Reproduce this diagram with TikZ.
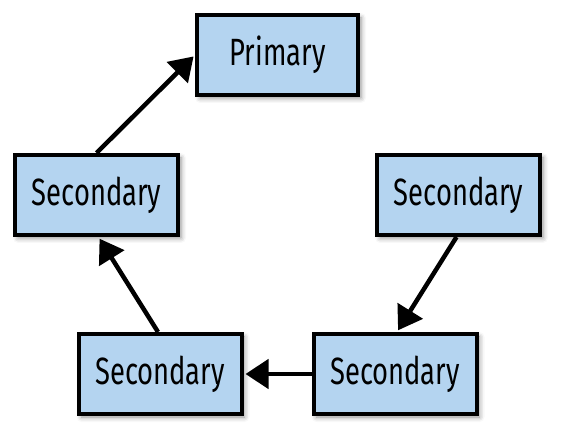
\documentclass[tikz,border=0pt]{standalone}
\usepackage{fontspec}
\setmainfont{Fira Sans}[FakeStretch=0.72]
\usetikzlibrary{arrows.meta,shadows.blur}
\definecolor{boxblue}{RGB}{180,212,240}
\tikzset{
  box/.style={draw=black, line width=4pt, fill=boxblue, minimum width=163pt, minimum height=80pt,
    inner sep=0pt, font=\fontsize{38}{44}\selectfont,
    blur shadow={shadow xshift=3pt, shadow yshift=-3pt, shadow blur radius=5pt, shadow opacity=45}},
  conn/.style={line width=4.5pt, -{Triangle[length=23pt,width=29pt]}, shorten >=2pt}
}
\begin{document}
\begin{tikzpicture}[x=1pt,y=1pt]
\useasboundingbox (0,0) rectangle (569,444);
\node[box, minimum width=161pt] (p) at (277.5,389) {Primary};
\node[box] (s1) at (96.5,249) {Secondary};
\node[box] (s2) at (458.5,249) {Secondary};
\node[box] (s3) at (160,70) {Secondary};
\node[box] (s4) at (395,70) {Secondary};
\draw[conn] (s1.north) -- (p.west);
\draw[conn] ([xshift=-2pt]s3.north) -- ([xshift=2pt]s1.south);
\draw[conn] ([xshift=-2pt]s2.south) -- ([xshift=2pt]s4.north);
\draw[conn] (s4.west) -- (s3.east);
\end{tikzpicture}
\end{document}
